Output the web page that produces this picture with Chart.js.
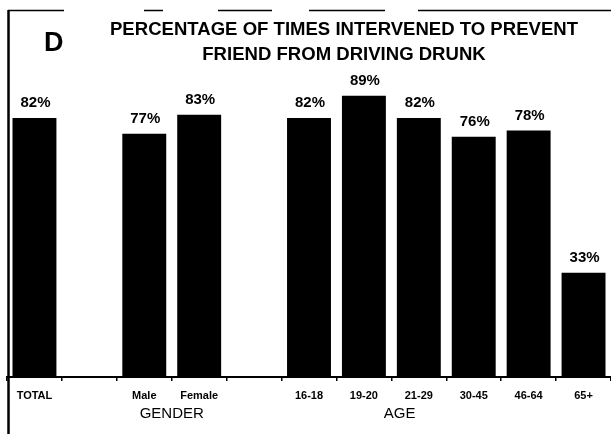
<!DOCTYPE html>
<html>
<head>
<meta charset="utf-8">
<script src="https://cdn.jsdelivr.net/npm/chart.js@4"></script>
<style>
  html, body { margin: 0; padding: 0; background: #fff; }
  #wrap { width: 611px; height: 434px; position: relative; }
</style>
</head>
<body>
<div id="wrap"><canvas id="c" width="611" height="434"></canvas></div>
<script>
// ---- data ----
const categories = ['TOTAL', '', 'Male', 'Female', '', '16-18', '19-20', '21-29', '30-45', '46-64', '65+'];
const values = [82, null, 77, 83, null, 82, 89, 82, 76, 78, 33];
const groupLabels = ['GENDER', 'AGE'];
const groupAnchors = [2.5, 6.65]; // category positions for group captions
const panelLetter = 'D';
const titleLines = ['PERCENTAGE OF TIMES INTERVENED TO PREVENT', 'FRIEND FROM DRIVING DRUNK'];

const FONT = '"Liberation Sans", Arial, Helvetica, sans-serif';

const decorPlugin = {
  id: 'decor',
  beforeDraw(chart) {
    const ctx = chart.ctx;
    ctx.save();
    ctx.fillStyle = '#fff';
    ctx.fillRect(0, 0, chart.width, chart.height);
    // frame lines
    ctx.strokeStyle = '#000';
    ctx.lineWidth = 2.5;
    ctx.beginPath();
    ctx.moveTo(8.5, 10);
    ctx.lineTo(8.5, 434);
    ctx.stroke();
    ctx.lineWidth = 1.5;
    const segs = [[8, 64], [144, 163], [218, 272], [309, 385], [418, 611]];
    ctx.beginPath();
    segs.forEach(s => { ctx.moveTo(s[0], 10.5); ctx.lineTo(s[1], 10.5); });
    ctx.stroke();
    ctx.restore();
  },
  afterDraw(chart) {
    const ctx = chart.ctx;
    ctx.save();
    ctx.fillStyle = '#000';
    // panel letter
    ctx.font = 'bold 27px ' + FONT;
    ctx.textAlign = 'left';
    ctx.textBaseline = 'alphabetic';
    ctx.fillText(panelLetter, 44, 51);
    // title
    ctx.font = 'bold 18px ' + FONT;
    const w1 = ctx.measureText(titleLines[0]).width;
    const sx = 468 / w1;
    const cx = 344;
    const baselines = [35, 60];
    titleLines.forEach((t, i) => {
      ctx.save();
      ctx.translate(cx, baselines[i]);
      ctx.scale(sx, 1);
      ctx.textAlign = 'center';
      ctx.fillText(t, 0, 0);
      ctx.restore();
    });
    // group captions
    const xs = chart.scales.x;
    ctx.font = '15px ' + FONT;
    ctx.textAlign = 'center';
    groupLabels.forEach((g, i) => {
      ctx.fillText(g, xs.getPixelForValue(groupAnchors[i]), 418);
    });
    // value labels
    ctx.font = 'bold 15px ' + FONT;
    const meta = chart.getDatasetMeta(0);
    meta.data.forEach((bar, i) => {
      const v = values[i];
      if (v === null || v === undefined) return;
      ctx.fillText(v + '%', bar.x + 1, bar.y - 11);
    });
    ctx.restore();
  }
};

new Chart(document.getElementById('c'), {
  type: 'bar',
  data: {
    labels: categories,
    datasets: [{
      data: values,
      backgroundColor: '#000',
      borderWidth: 0,
      barPercentage: 0.8,
      categoryPercentage: 1.0
    }]
  },
  options: {
    responsive: false,
    animation: false,
    devicePixelRatio: 1,
    layout: { padding: { left: 7, right: 0, top: 61, bottom: 0 } },
    plugins: { legend: { display: false }, tooltip: { enabled: false }, title: { display: false } },
    scales: {
      y: { display: false, min: 0, max: 100 },
      x: {
        afterFit(scale) { scale.height = 57; },
        grid: { display: true, drawOnChartArea: false, drawTicks: true, tickLength: 4, color: '#000', lineWidth: 1.5, offset: true },
        border: { display: true, color: '#000', width: 2 },
        ticks: {
          autoSkip: false, maxRotation: 0, minRotation: 0, padding: 8,
          color: '#000',
          font: { family: FONT, size: 11, weight: 'bold' }
        }
      }
    }
  },
  plugins: [decorPlugin]
});
</script>
</body>
</html>
